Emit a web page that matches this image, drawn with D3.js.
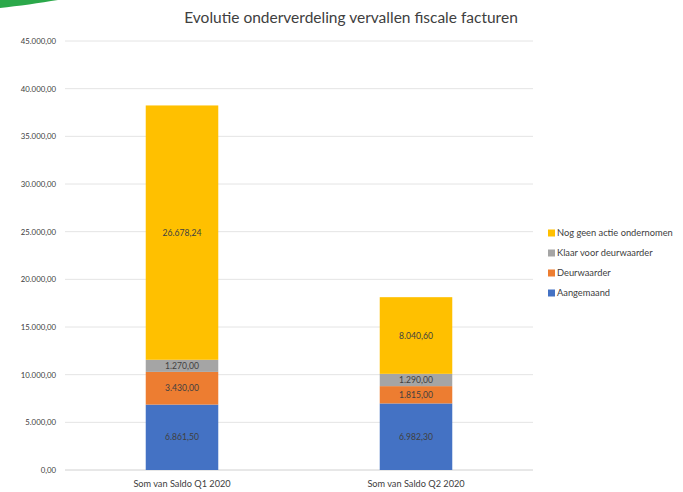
<!DOCTYPE html>
<html>
<head>
<meta charset="utf-8">
<script src="https://cdn.jsdelivr.net/npm/d3@7"></script>
<style>
  body { margin: 0; background: #fff; }
  text { font-family: Lato, "Open Sans", sans-serif; fill: #404040; }
</style>
</head>
<body>
<div id="chart"></div>
<script>
// chart data
var categories = ["Som van Saldo Q1 2020", "Som van Saldo Q2 2020"];
var seriesNames = ["Aangemaand", "Deurwaarder", "Klaar voor deurwaarder", "Nog geen actie ondernomen"];
var aangemaand = [6861.50, 6982.30];
var deurwaarder = [3430.00, 1815.00];
var klaar = [1270.00, 1290.00];
var nogGeen = [26678.24, 8040.60];
var yTicks = [0, 5000, 10000, 15000, 20000, 25000, 30000, 35000, 40000, 45000];
var colors = ["#4472C4", "#ED7D31", "#A5A5A5", "#FFC000"];

var svgWidth = 683;
var svgHeight = 492;
var margin = { top: 41, right: 150, bottom: 22, left: 65 };
var width = svgWidth - margin.left - margin.right;
var height = svgHeight - margin.top - margin.bottom;

var svg = d3.select("#chart")
  .append("svg")
  .attr("width", svgWidth)
  .attr("height", svgHeight);

// green swoosh in the corner
svg.append("path")
  .attr("d", "M0,0 L58,0 C40,3 18,6 0,8 Z")
  .attr("fill", "#2BA84A");

// build rows for stacking
var rows = categories.map(function(c, i) {
  return {
    cat: c,
    "Aangemaand": aangemaand[i],
    "Deurwaarder": deurwaarder[i],
    "Klaar voor deurwaarder": klaar[i],
    "Nog geen actie ondernomen": nogGeen[i]
  };
});
var stacked = d3.stack().keys(seriesNames)(rows);

var x = d3.scaleBand().domain(categories).range([0, width]).paddingInner(0.69).paddingOuter(0.345);
var y = d3.scaleLinear().domain([0, 45000]).range([height, 0]);

var g = svg.append("g").attr("transform", `translate(${margin.left}, ${margin.top})`);

var fmt = function(v) {
  var parts = v.toFixed(2).split(".");
  return parts[0].replace(/\B(?=(\d{3})+(?!\d))/g, ".") + "," + parts[1];
};

// gridlines
g.selectAll(".grid")
  .data(yTicks)
  .enter()
  .append("line")
  .attr("x1", 0)
  .attr("x2", width)
  .attr("y1", d => y(d))
  .attr("y2", d => y(d))
  .attr("stroke", d => d === 0 ? "#d0d0d0" : "#e4e4e4")
  .attr("stroke-width", 1);

// y axis labels
var yAxis = d3.axisLeft(y).tickValues(yTicks).tickFormat(fmt).tickSize(0).tickPadding(9);
g.append("g").call(yAxis)
  .call(s => s.select(".domain").remove())
  .selectAll("text")
  .style("font-size", "7.8px")
  .attr("fill", "#404040");

// x axis labels
var xAxis = d3.axisBottom(x).tickSize(0).tickPadding(10);
g.append("g").attr("transform", `translate(0, ${height})`).call(xAxis)
  .call(s => s.select(".domain").remove())
  .selectAll("text")
  .style("font-size", "9.2px")
  .attr("fill", "#404040");

// bars
var layers = g.selectAll(".layer")
  .data(stacked)
  .enter()
  .append("g")
  .attr("fill", (d, i) => colors[i]);

layers.selectAll("rect")
  .data(d => d)
  .enter()
  .append("rect")
  .attr("x", d => x(d.data.cat))
  .attr("y", d => y(d[1]))
  .attr("width", x.bandwidth())
  .attr("height", d => y(d[0]) - y(d[1]));

// data labels
layers.selectAll(".lbl")
  .data(d => d)
  .enter()
  .append("text")
  .attr("x", d => x(d.data.cat) + x.bandwidth() / 2)
  .attr("y", d => (y(d[0]) + y(d[1])) / 2)
  .attr("dy", "0.35em")
  .attr("text-anchor", "middle")
  .style("font-size", "8.6px")
  .text(d => fmt(d[1] - d[0]));

// title
svg.append("text")
  .attr("x", 351)
  .attr("y", 23)
  .attr("text-anchor", "middle")
  .style("font-size", "15.5px")
  .text("Evolutie onderverdeling vervallen fiscale facturen");

// legend, top entry is the last series
var legendData = seriesNames.slice().reverse();
var legend = svg.selectAll(".legend")
  .data(legendData)
  .enter()
  .append("g")
  .attr("transform", (d, i) => `translate(548, ${233 + i * 20})`);

legend.append("rect")
  .attr("x", 0)
  .attr("y", -3.5)
  .attr("width", 7)
  .attr("height", 7)
  .attr("fill", d => colors[seriesNames.indexOf(d)]);

legend.append("text")
  .attr("x", 9)
  .attr("dy", "0.35em")
  .style("font-size", "9.3px")
  .text(d => d);
</script>
</body>
</html>
